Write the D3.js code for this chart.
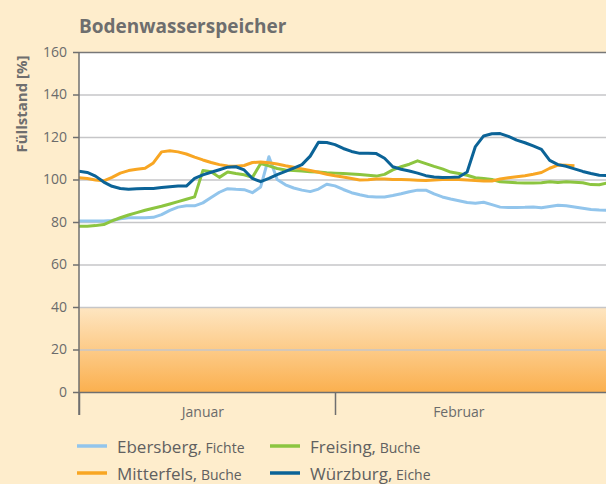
<!DOCTYPE html>
<html>
<head>
<meta charset="utf-8">
<script src="https://cdn.jsdelivr.net/npm/d3@7"></script>
<style>
	body { margin: 0; background: #feedcc; }
	svg { display: block; font-family: "Open Sans", "Noto Sans", sans-serif; }
	.tick text { fill: #6b6b6b; }
</style>
</head>
<body>
<div class="chart"></div>
<script>
	var TITLE = "Bodenwasserspeicher";
	var Y_LABEL = "Füllstand [%]";
	var Y_TICKS = [0, 20, 40, 60, 80, 100, 120, 140, 160];
	var MONTHS = ["Januar", "Februar"];
	var START = new Date(2011, 0, 1);

	// daily values from 1 January
	var ebersberg = [80.5, 80.5, 80.5, 80.5, 80.7, 81.5, 82, 82, 82, 82.2,
		83.5, 85.5, 87, 87.6, 87.6, 89, 91.5, 94, 95.7, 95.4,
		95.2, 93.8, 96.5, 110.7, 100, 97.5, 96, 95, 94.3, 95.5,
		97.8, 97, 95.3, 93.8, 92.8, 92, 91.8, 91.8, 92.5, 93.3,
		94.2, 95, 95, 93.2, 91.8, 90.8, 90, 89.2, 88.8, 89.3,
		88.2, 87, 86.8, 86.8, 86.9, 87.1, 86.7, 87.3, 87.9, 87.6,
		87.1, 86.5, 85.9, 85.6, 85.5];
	var freising = [78, 78, 78.3, 78.8, 80.5, 82, 83.3, 84.4, 85.5, 86.5,
		87.4, 88.5, 89.6, 90.7, 91.8, 104.2, 103.6, 101, 103.5, 102.8,
		102.2, 101, 107.5, 106.4, 105.2, 104.5, 104.2, 104, 103.7, 103.5,
		103.2, 103, 102.8, 102.6, 102.3, 102, 101.6, 102.4, 104.5, 106,
		107.2, 108.8, 107.5, 106.2, 105, 103.5, 102.8, 102, 100.8, 100.5,
		100, 98.9, 98.7, 98.5, 98.4, 98.4, 98.5, 98.9, 98.6, 98.9,
		98.7, 98.5, 97.6, 97.5, 98.4];
	var mitterfels = [100.8, 100.5, 99.8, 99.4, 101, 103, 104.2, 104.8, 105.3, 107.8,
		113, 113.5, 113, 112, 110.5, 109.2, 108, 107, 106.4, 106.2,
		106.6, 108, 108.2, 107.9, 107.3, 106.5, 105.8, 105, 104.2, 103.4,
		102.5, 101.8, 101.2, 100.5, 99.8, 99.9, 100.2, 100.2, 100, 100,
		99.9, 99.7, 99.5, 99.8, 100, 100, 100, 99.8, 99.5, 99.3,
		99.3, 100.2, 100.8, 101.3, 101.8, 102.5, 103.3, 105.3, 106.8, 106.7,
		106.5];
	var wuerzburg = [103.9, 103.3, 101.6, 98.8, 96.8, 95.8, 95.4, 95.6, 95.8, 95.8,
		96.2, 96.6, 96.9, 96.9, 100.5, 102.2, 103.4, 104.6, 105.8, 106,
		104.5, 100.5, 99, 100.5, 102.3, 103.8, 105.4, 107, 111, 117.5,
		117.4, 116.4, 114.6, 113.2, 112.3, 112.4, 112.2, 110, 106, 104.8,
		104, 103, 101.8, 101.2, 100.9, 101, 101.2, 103.5, 115.5, 120.5,
		121.5, 121.6, 120.3, 118.5, 117.3, 115.8, 114.2, 109, 107, 106.2,
		105, 103.8, 102.8, 102, 101.8];

	var SERIES = [
		{ name : "Ebersberg,", tree : "Fichte", color : "#92c5ec", values : ebersberg },
		{ name : "Freising,", tree : "Buche", color : "#8cc540", values : freising },
		{ name : "Mitterfels,", tree : "Buche", color : "#f8a623", values : mitterfels },
		{ name : "Würzburg,", tree : "Eiche", color : "#0b6397", values : wuerzburg }
	];

	var margin = { top : 52, right : 0, bottom : 92, left : 79 },
		fullWidth = 606,
		fullHeight = 484,
		width = fullWidth - margin.left - margin.right,
		height = fullHeight - margin.top - margin.bottom;

	var svg = d3.select(".chart").append("svg")
		.attr("width", fullWidth)
		.attr("height", fullHeight);

	var defs = svg.append("defs");
	var grad = defs.append("linearGradient")
		.attr("id", "low")
		.attr("x1", 0).attr("y1", 0).attr("x2", 0).attr("y2", 1);
	grad.append("stop").attr("offset", "0%").attr("stop-color", "#fee6c2");
	grad.append("stop").attr("offset", "100%").attr("stop-color", "#fbb04f");

	defs.append("clipPath").attr("id", "plot")
		.append("rect").attr("width", width).attr("height", height);

	var g = svg.append("g")
		.attr("transform", "translate(" + margin.left + "," + margin.top + ")");

	var dayPx = 256 / 31;
	var x = d3.scaleTime()
		.domain([START, d3.timeDay.offset(START, 64)])
		.range([0, 64 * dayPx]);

	var y = d3.scaleLinear()
		.domain([0, 160])
		.range([height, 0]);

	function dateAt( i ) {
		return d3.timeDay.offset(START, i);
	}

	// plot background: white, orange band below 40 %
	g.append("rect")
		.attr("width", width)
		.attr("height", height)
		.attr("fill", "#ffffff");
	g.append("rect")
		.attr("y", y(40))
		.attr("width", width)
		.attr("height", y(0) - y(40))
		.attr("fill", "url(#low)");

	// grid
	g.append("g")
		.selectAll("line")
		.data(Y_TICKS.filter(function ( d ) { return d > 0 && d < 160; }))
		.enter()
		.append("line")
		.attr("x1", 0)
		.attr("x2", width)
		.attr("y1", function ( d ) { return y(d) + 0.5; })
		.attr("y2", function ( d ) { return y(d) + 0.5; })
		.attr("stroke", "#c6c6c8")
		.attr("stroke-width", 1.4);

	// lines
	var line = d3.line()
		.x(function ( d, i ) { return x(dateAt(i)); })
		.y(function ( d ) { return y(d); });

	g.append("g")
		.attr("clip-path", "url(#plot)")
		.selectAll("path")
		.data(SERIES)
		.enter()
		.append("path")
		.attr("d", function ( s ) { return line(s.values); })
		.attr("fill", "none")
		.attr("stroke", function ( s ) { return s.color; })
		.attr("stroke-width", 3)
		.attr("stroke-linejoin", "round");

	// top border and zero line
	g.append("line")
		.attr("x1", 0).attr("x2", width)
		.attr("y1", 0.5).attr("y2", 0.5)
		.attr("stroke", "#777")
		.attr("stroke-width", 1.5);
	g.append("line")
		.attr("x1", 0).attr("x2", width)
		.attr("y1", y(0) + 0.5).attr("y2", y(0) + 0.5)
		.attr("stroke", "#6f6f6f")
		.attr("stroke-width", 1.5);

	// y axis
	var yAxis = g.append("g")
		.call(d3.axisLeft(y).tickValues(Y_TICKS).tickSize(6).tickPadding(6));
	yAxis.select(".domain").remove();
	yAxis.selectAll(".tick line").attr("stroke", "#6f6f6f").attr("stroke-width", 1.5);
	yAxis.selectAll(".tick text")
		.attr("font-size", "14px")
		.attr("font-family", "Open Sans, sans-serif");

	g.append("line")
		.attr("x1", 0).attr("x2", 0)
		.attr("y1", 0).attr("y2", height + 23)
		.attr("stroke", "#6f6f6f")
		.attr("stroke-width", 1.5);

	// x axis: month ticks and labels
	var xAxis = g.append("g")
		.attr("transform", "translate(0," + height + ")")
		.call(d3.axisBottom(x)
			.tickValues([START, d3.timeMonth.offset(START, 1)])
			.tickSize(23)
			.tickFormat(""));
	xAxis.select(".domain").remove();
	xAxis.selectAll(".tick line").attr("stroke", "#6f6f6f").attr("stroke-width", 1.5);

	g.append("g")
		.selectAll("text")
		.data(MONTHS)
		.enter()
		.append("text")
		.attr("x", function ( d, i ) { return x(d3.timeDay.offset(d3.timeMonth.offset(START, i), 15)); })
		.attr("y", height + 25)
		.attr("text-anchor", "middle")
		.attr("font-size", "14px")
		.attr("fill", "#6b6b6b")
		.text(function ( d ) { return d; });

	// title and axis label
	svg.append("text")
		.attr("x", 79)
		.attr("y", 33)
		.attr("font-size", "19px")
		.attr("font-weight", "bold")
		.attr("fill", "#6e6e6e")
		.text(TITLE);

	svg.append("text")
		.attr("text-anchor", "middle")
		.attr("transform", "translate(27,104)rotate(-90)")
		.attr("font-size", "15px")
		.attr("font-weight", "bold")
		.attr("fill", "#6e6e6e")
		.text(Y_LABEL);

	// legend, two columns
	var legend = svg.append("g").selectAll("g")
		.data(SERIES)
		.enter()
		.append("g")
		.attr("transform", function ( d, i ) {
			return "translate(" + (77 + (i % 2) * 193) + "," + (446 + Math.floor(i / 2) * 27) + ")";
		});

	legend.append("line")
		.attr("x1", 0).attr("x2", 30)
		.attr("stroke", function ( d ) { return d.color; })
		.attr("stroke-width", 3.5);

	var label = legend.append("text")
		.attr("x", 40)
		.attr("y", 7)
		.attr("fill", "#606060");
	label.append("tspan")
		.attr("font-size", "17px")
		.text(function ( d ) { return d.name; });
	label.append("tspan")
		.attr("font-size", "14px")
		.text(function ( d ) { return " " + d.tree; });
</script>
</body>
</html>
